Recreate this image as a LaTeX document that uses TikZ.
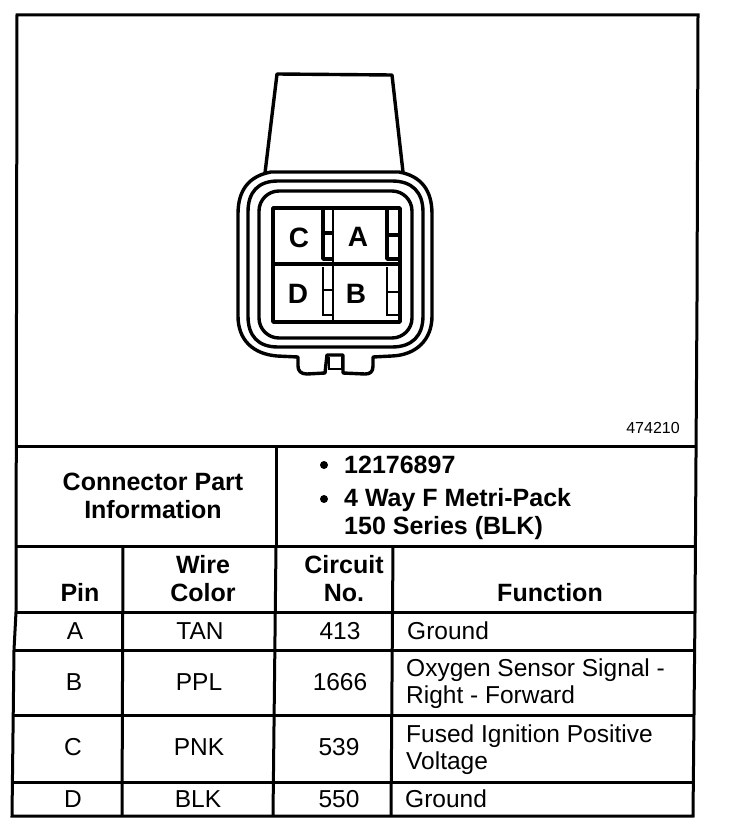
\documentclass[tikz,border=0pt]{standalone}
\usepackage{fontspec}
\setmainfont{Liberation Sans}
\begin{document}
\begin{tikzpicture}[x=1pt,y=-1pt]
\tikzset{rule/.style = {line width=3pt}}
\tikzset{shell/.style = {line width=3.4pt,line join=round}}
\tikzset{thin rule/.style = {line width=2.6pt}}
\tikzset{pinlabel/.style = {inner sep=0pt,text height=20pt,text depth=0pt,font=\bfseries\fontsize{28}{30}\selectfont}}
\tikzset{cell/.style = {inner sep=0pt,text height=17pt,text depth=0pt,font=\fontsize{24.5}{27}\selectfont}}
\tikzset{funccell/.style = {inner sep=0pt,anchor=west,align=left,font=\fontsize{24.5}{27}\selectfont}}
\tikzset{head/.style = {inner sep=0pt,align=center,font=\bfseries\fontsize{25}{28}\selectfont}}
\tikzset{bullet/.style = {shape=circle,fill,inner sep=0pt,minimum size=8pt}}
\useasboundingbox (0,0) rectangle (736,832);
% frame
\draw[rule] (17,15) -- (698,15) -- (697,300) -- (695,612) -- (693,816) -- (12,816) -- (14,650) -- (16,612) -- cycle;
% rows
\draw[rule] (16,446) -- (696,446);
\draw[rule] (15,546) -- (695,546);
\draw[rule] (16,612) -- (695,612);
\draw[rule] (14,650) -- (694,650);
\draw[rule] (13,715) -- (694,715);
\draw[rule] (12,782) -- (693,782);
% columns
\draw[rule] (276,446) -- (276,546);
\draw[rule] (123,546) -- (122,816);
\draw[rule] (276,546) -- (273,816);
\draw[rule] (393,546) -- (391,816);
% boot and shell
\draw[shell] (265,173) -- (277,74) -- (392,75) -- (403,172);
\draw[shell] (271,172) -- (399,172) .. controls (421,176) and (432,190) .. (432,214)
  -- (432,316) .. controls (432,340) and (416,355) .. (392,356) -- (373,357)
  -- (373,366) .. controls (373,372) and (370,374) .. (365,374) -- (343,373)
  -- (343,355) -- (327,355) -- (325,373) -- (307,374) .. controls (301,374) and (298,371) .. (298,366)
  -- (298,357) -- (277,356) .. controls (253,354) and (238,340) .. (238,316)
  -- (238,214) .. controls (238,190) and (249,176) .. (271,172) -- cycle;
\draw[shell] (248,212) .. controls (248,192) and (258,181) .. (278,181) -- (392,181)
  .. controls (412,181) and (423,192) .. (423,212) -- (423,316)
  .. controls (423,336) and (412,347) .. (392,347) -- (278,347)
  .. controls (258,347) and (248,336) .. (248,316) -- cycle;
\draw[shell,rounded corners=20pt] (259,191) rectangle (412,338);
\draw[thin rule] (329,357) -- (329,369) -- (342,369) -- (342,357);
% pin cavities
\draw[shell] (273,208) rectangle (400,322);
\draw[shell] (273,264) -- (400,264);
\draw[thin rule] (333,208) -- (333,322);
\draw[shell] (323,208) -- (323,259) -- (333,259) (323,233) -- (333,233);
\draw[thin rule] (323,267) -- (323,315) -- (333,315) (323,290) -- (333,290);
\draw[shell] (387,208) -- (387,259) -- (400,259) (387,235) -- (400,235);
\draw[thin rule] (387,267) -- (387,315) -- (400,315) (387,292) -- (400,292);
\node[pinlabel] (pinC) at (299,237) {C};
\node[pinlabel] (pinA) at (358,236) {A};
\node[pinlabel] (pinD) at (298,293) {D};
\node[pinlabel] (pinB) at (356,293) {B};
\node[inner sep=0pt,font=\fontsize{16}{16}\selectfont] (partno) at (653,428) {474210};
% connector part information
\node[head] (partinfo) at (153,496) {Connector Part\\Information};
\node[bullet] (bulleta) at (324,465) {};
\node[bullet] (bulletb) at (324,499) {};
\node[head,anchor=west] (number) at (344,465) {12176897};
\node[head,anchor=west,align=left] (series) at (344,514) {4 Way F Metri-Pack\\150 Series (BLK)};
% header
\node[head] (pin) at (80,592) {Pin};
\node[head] (wire) at (203,579) {Wire\\Color};
\node[head] (circuit) at (344,579) {Circuit\\No.};
\node[head] (function) at (550,593) {Function};
% pins
\node[cell] (a1) at (75,631) {A};
\node[cell] (a2) at (200,631) {TAN};
\node[cell] (a3) at (340,631) {413};
\node[cell,anchor=west] (a4) at (407,631) {Ground};
\node[cell] (b1) at (74,682) {B};
\node[cell] (b2) at (199,682) {PPL};
\node[cell] (b3) at (340,682) {1666};
\node[funccell] (b4) at (406,684) {Oxygen Sensor Signal -\\Right - Forward};
\node[cell] (c1) at (73,747) {C};
\node[cell] (c2) at (199,747) {PNK};
\node[cell] (c3) at (339,747) {539};
\node[funccell] (c4) at (406,750) {Fused Ignition Positive\\Voltage};
\node[cell] (d1) at (73,799) {D};
\node[cell] (d2) at (198,799) {BLK};
\node[cell] (d3) at (339,799) {550};
\node[cell,anchor=west] (d4) at (405,799) {Ground};
\end{tikzpicture}
\end{document}
